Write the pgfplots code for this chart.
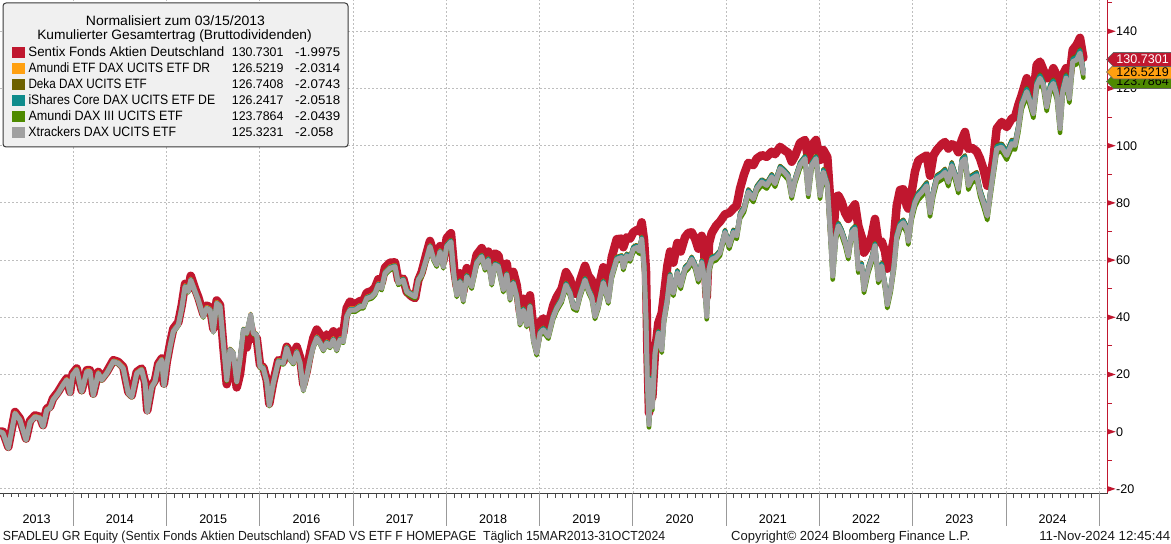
\documentclass[border=0pt]{standalone}
\usepackage{pgfplots}
\pgfplotsset{compat=1.18}
\usepackage{pgfplotstable}
\usepackage{fontspec}
\setmainfont{Liberation Sans}
\usetikzlibrary{shapes.symbols}

\definecolor{sentix}{HTML}{C0172F}
\definecolor{amundidr}{HTML}{FFA010}
\definecolor{deka}{HTML}{6D6100}
\definecolor{ishares}{HTML}{0F8C8C}
\definecolor{amundiiii}{HTML}{4E8A00}
\definecolor{xtrackers}{HTML}{A0A0A0}
\definecolor{gridgray}{HTML}{BEBEBE}
\definecolor{legbg}{HTML}{F0F0F0}
\definecolor{legborder}{HTML}{3A3A3A}

% t = decimal year, S = Sentix, DR = Amundi DR, DK = Deka, IS = iShares, A3 = Amundi III, X = Xtrackers
\pgfplotstableread{
t S DR DK IS A3 X
2013.214 0.0 0.0 0.0 0.0 0.0 0.0
2013.246 0.0 -0.2 -0.4 -0.5 -0.6 -0.5
2013.303 -5.3 -5.5 -5.7 -5.8 -5.9 -5.8
2013.375 6.9 6.7 6.5 6.4 6.3 6.4
2013.428 4.6 4.4 4.2 4.1 4.0 4.1
2013.493 -2.4 -2.6 -2.8 -2.9 -3.0 -2.9
2013.536 3.8 3.6 3.4 3.3 3.2 3.3
2013.589 5.7 5.5 5.3 5.2 5.1 5.2
2013.643 5.2 5.0 4.8 4.7 4.6 4.7
2013.675 2.3 2.1 1.9 1.8 1.7 1.8
2013.715 8.1 7.9 7.7 7.6 7.5 7.6
2013.750 8.7 8.5 8.3 8.2 8.1 8.2
2013.782 11.6 11.4 11.2 11.1 11.0 11.1
2013.836 13.9 13.7 13.5 13.4 13.3 13.4
2013.890 16.8 16.6 16.4 16.3 16.2 16.3
2013.929 18.6 18.4 18.2 18.1 18.0 18.1
2013.965 13.9 13.7 13.5 13.4 13.3 13.4
2013.993 20.3 20.1 19.9 19.8 19.7 19.8
2014.036 22.1 22.0 21.8 21.7 21.4 21.6
2014.090 14.5 14.4 14.2 14.1 13.8 14.0
2014.144 21.5 21.4 21.2 21.1 20.8 21.0
2014.179 21.5 21.4 21.2 21.1 20.8 21.0
2014.214 13.3 13.2 13.0 12.9 12.6 12.8
2014.268 20.9 20.8 20.6 20.5 20.2 20.4
2014.304 18.6 18.5 18.3 18.2 17.9 18.1
2014.358 20.9 20.8 20.6 20.5 20.2 20.4
2014.429 25.0 24.9 24.7 24.6 24.3 24.5
2014.482 24.4 24.3 24.1 24.0 23.7 23.9
2014.536 22.6 22.5 22.3 22.2 21.9 22.1
2014.590 13.9 13.8 13.6 13.5 13.2 13.4
2014.626 12.7 12.6 12.4 12.3 12.0 12.2
2014.680 20.9 20.8 20.6 20.5 20.2 20.4
2014.733 22.1 22.0 21.8 21.7 21.4 21.6
2014.769 17.4 17.3 17.1 17.0 16.7 16.9
2014.793 7.5 7.4 7.2 7.1 6.8 7.0
2014.841 16.2 16.1 15.9 15.8 15.5 15.7
2014.876 18.0 17.9 17.7 17.6 17.3 17.5
2014.911 23.8 23.7 23.5 23.4 23.1 23.3
2014.948 25.6 25.5 25.3 25.2 24.9 25.1
2014.972 16.8 16.7 16.5 16.4 16.1 16.3
2015.001 24.3 23.8 23.6 23.5 23.0 23.3
2015.037 30.7 30.2 30.0 29.9 29.4 29.7
2015.072 36.0 35.5 35.3 35.2 34.7 35.0
2015.126 38.3 37.8 37.6 37.5 37.0 37.3
2015.162 44.1 43.6 43.4 43.3 42.8 43.1
2015.198 51.7 51.2 51.0 50.9 50.4 50.7
2015.233 50.0 49.5 49.3 49.2 48.7 49.0
2015.259 54.5 53.5 53.3 53.2 52.7 53.0
2015.305 50.0 49.5 49.3 49.2 48.7 49.0
2015.340 47.0 46.5 46.3 46.2 45.7 46.0
2015.394 41.2 40.7 40.5 40.4 39.9 40.2
2015.430 44.1 43.6 43.4 43.3 42.8 43.1
2015.466 43.5 43.0 42.8 42.7 42.2 42.5
2015.501 36.0 35.5 35.3 35.2 34.7 35.0
2015.537 45.9 45.4 45.2 45.1 44.6 44.9
2015.573 44.3 44.3 44.1 44.0 43.5 43.8
2015.608 29.9 31.4 31.2 31.1 30.6 30.9
2015.645 16.6 18.6 18.4 18.3 17.8 18.1
2015.680 25.6 29.1 28.9 28.8 28.3 28.6
2015.715 24.4 27.9 27.7 27.6 27.1 27.4
2015.752 15.5 18.0 17.8 17.7 17.2 17.5
2015.787 20.1 25.6 25.4 25.3 24.8 25.1
2015.823 29.6 36.1 35.9 35.8 35.3 35.6
2015.859 29.4 34.9 34.7 34.6 34.1 34.4
2015.902 36.8 41.3 41.1 41.0 40.5 40.8
2015.930 32.4 34.9 34.7 34.6 34.1 34.4
2015.966 32.8 34.3 34.1 34.0 33.5 33.8
2016.002 23.2 23.3 23.1 23.0 22.3 22.7
2016.037 22.6 22.7 22.5 22.4 21.7 22.1
2016.074 18.0 18.1 17.9 17.8 17.1 17.5
2016.101 9.8 9.9 9.7 9.6 8.9 9.3
2016.144 17.4 17.5 17.3 17.2 16.5 16.9
2016.198 25.0 25.1 24.9 24.8 24.1 24.5
2016.251 24.4 24.5 24.3 24.2 23.5 23.9
2016.288 29.7 29.8 29.6 29.5 28.8 29.2
2016.323 27.5 26.1 25.9 25.8 25.1 25.5
2016.359 26.0 24.6 24.4 24.3 23.6 24.0
2016.395 29.7 28.3 28.1 28.0 27.3 27.7
2016.431 26.0 24.6 24.4 24.3 23.6 24.0
2016.466 16.6 15.2 15.0 14.9 14.2 14.6
2016.502 21.2 19.8 19.6 19.5 18.8 19.2
2016.538 27.6 25.7 25.5 25.4 24.7 25.1
2016.573 32.7 30.3 30.1 30.0 29.3 29.7
2016.610 35.7 33.3 33.1 33.0 32.3 32.7
2016.645 34.0 31.6 31.4 31.3 30.6 31.0
2016.680 31.6 29.2 29.0 28.9 28.2 28.6
2016.717 34.0 31.6 31.4 31.3 30.6 31.0
2016.752 32.7 30.3 30.1 30.0 29.3 29.7
2016.788 35.1 32.7 32.5 32.4 31.7 32.1
2016.824 31.6 29.2 29.0 28.9 28.2 28.6
2016.859 35.1 32.7 32.5 32.4 31.7 32.1
2016.895 34.5 32.1 31.9 31.8 31.1 31.5
2016.931 43.2 40.8 40.6 40.5 39.8 40.2
2016.967 45.5 43.1 42.9 42.8 42.1 42.5
2017.020 44.5 43.1 43.0 42.8 41.9 42.5
2017.074 45.7 44.3 44.2 44.0 43.1 43.7
2017.109 45.7 44.3 44.2 44.0 43.1 43.7
2017.146 48.6 47.2 47.1 46.9 46.0 46.6
2017.199 49.2 47.8 47.7 47.5 46.6 47.2
2017.235 50.4 49.0 48.9 48.7 47.8 48.4
2017.270 53.3 51.9 51.8 51.6 50.7 51.3
2017.306 52.1 50.7 50.6 50.4 49.5 50.1
2017.342 57.4 56.0 55.9 55.7 54.8 55.4
2017.395 59.1 57.7 57.6 57.4 56.5 57.1
2017.449 59.2 58.3 58.2 58.0 57.1 57.7
2017.484 52.9 52.5 52.4 52.2 51.3 51.9
2017.538 53.5 53.6 53.5 53.3 52.4 53.0
2017.575 48.9 49.5 49.4 49.2 48.3 48.9
2017.628 47.3 48.4 48.3 48.1 47.2 47.8
2017.664 46.7 47.8 47.7 47.5 46.6 47.2
2017.699 53.0 53.6 53.5 53.3 52.4 53.0
2017.735 55.8 55.4 55.3 55.1 54.2 54.8
2017.789 62.6 61.2 61.1 60.9 60.0 60.6
2017.824 66.7 65.3 65.2 65.0 64.1 64.7
2017.860 62.6 61.2 61.1 60.9 60.0 60.6
2017.896 60.3 58.9 58.8 58.6 57.7 58.3
2017.932 64.9 63.5 63.4 63.2 62.3 62.9
2017.967 59.7 58.3 58.2 58.0 57.1 57.7
2018.003 67.7 65.4 65.4 65.1 64.0 64.7
2018.049 69.4 67.1 67.1 66.8 65.7 66.4
2018.082 57.2 54.9 54.9 54.6 53.5 54.2
2018.111 50.8 48.5 48.5 48.2 47.1 47.8
2018.146 55.4 53.1 53.1 52.8 51.7 52.4
2018.181 49.0 46.7 46.7 46.4 45.3 46.0
2018.218 57.2 54.9 54.9 54.6 53.5 54.2
2018.271 53.7 51.4 51.4 51.1 50.0 50.7
2018.325 61.9 59.6 59.6 59.3 58.2 58.9
2018.379 64.2 61.9 61.9 61.6 60.5 61.2
2018.414 60.1 57.8 57.8 57.5 56.4 57.1
2018.449 63.0 60.7 60.7 60.4 59.3 60.0
2018.486 55.9 52.6 52.6 52.3 51.2 51.9
2018.521 62.3 59.0 59.0 58.7 57.6 58.3
2018.557 61.7 58.4 58.4 58.1 57.0 57.7
2018.610 53.5 50.2 50.2 49.9 48.8 49.5
2018.647 58.8 55.5 55.5 55.2 54.1 54.8
2018.682 50.6 47.3 47.3 47.0 45.9 46.6
2018.717 55.9 52.6 52.6 52.3 51.2 51.9
2018.754 51.2 47.9 47.9 47.6 46.5 47.2
2018.789 41.9 38.6 38.6 38.3 37.2 37.9
2018.825 46.5 43.2 43.2 42.9 41.8 42.5
2018.861 41.3 38.0 38.0 37.7 36.6 37.3
2018.896 47.7 44.4 44.4 44.1 43.0 43.7
2018.932 36.1 32.8 32.8 32.5 31.4 32.1
2018.968 31.4 28.1 28.1 27.8 26.7 27.4
2019.004 38.4 35.2 35.2 34.9 33.6 34.4
2019.039 39.6 36.4 36.4 36.1 34.8 35.6
2019.093 37.3 34.1 34.1 33.8 32.5 33.3
2019.146 44.2 41.0 41.0 40.7 39.4 40.2
2019.183 47.1 43.9 43.9 43.6 42.3 43.1
2019.236 50.0 46.8 46.8 46.5 45.2 46.0
2019.282 55.8 52.1 52.1 51.8 50.5 51.3
2019.325 53.4 49.2 49.2 48.9 47.6 48.4
2019.361 48.7 44.5 44.5 44.2 42.9 43.7
2019.397 48.1 43.9 43.9 43.6 42.3 43.1
2019.433 52.8 48.6 48.6 48.3 47.0 47.8
2019.486 58.0 53.8 53.8 53.5 52.2 53.0
2019.522 54.5 50.3 50.3 50.0 48.7 49.5
2019.558 53.0 47.8 47.8 47.5 46.2 47.0
2019.593 46.5 41.0 41.0 40.7 39.4 40.2
2019.629 50.0 44.6 44.6 44.3 43.0 43.8
2019.682 57.5 52.9 52.9 52.6 51.3 52.1
2019.736 52.0 46.4 46.4 46.1 44.8 45.6
2019.773 61.0 55.2 55.2 54.9 53.6 54.4
2019.826 67.3 61.1 61.1 60.8 59.5 60.3
2019.880 67.5 61.7 61.7 61.4 60.1 60.9
2019.897 64.5 58.1 58.1 57.8 56.5 57.3
2019.933 68.0 62.3 62.3 62.0 60.7 61.5
2019.969 67.5 61.1 61.1 60.8 59.5 60.3
2020.004 69.7 64.7 64.7 64.4 62.8 63.8
2020.041 70.5 65.3 65.3 65.0 63.4 64.4
2020.068 70.0 64.1 64.1 63.8 62.2 63.2
2020.094 73.2 68.2 68.2 67.9 66.3 67.3
2020.119 67.0 58.8 58.8 58.5 56.9 57.9
2020.140 56.0 40.0 40.0 39.7 38.1 39.1
2020.154 30.0 18.9 18.9 18.6 17.0 18.0
2020.172 6.5 3.4 3.4 3.1 1.5 2.5
2020.191 14.0 18.9 18.9 18.6 17.0 18.0
2020.208 12.0 9.5 9.5 9.2 7.6 8.6
2020.237 28.0 28.3 28.3 28.0 26.4 27.4
2020.272 38.0 35.3 35.3 35.0 33.4 34.4
2020.309 41.5 29.5 29.5 29.2 27.6 28.6
2020.333 48.0 40.0 40.0 39.7 38.1 39.1
2020.369 58.0 47.1 47.1 46.8 45.2 46.2
2020.398 63.0 55.3 55.3 55.0 53.4 54.4
2020.433 59.1 49.4 49.4 49.1 47.5 48.5
2020.476 66.0 56.5 56.5 56.2 54.6 55.6
2020.512 63.0 51.8 51.8 51.5 49.9 50.9
2020.558 68.0 57.7 57.7 57.4 55.8 56.8
2020.594 69.5 58.8 58.8 58.5 56.9 57.9
2020.630 69.7 61.2 61.2 60.9 59.3 60.3
2020.666 67.5 58.8 58.8 58.5 56.9 57.9
2020.701 64.0 54.1 54.1 53.8 52.2 53.2
2020.737 68.5 60.0 60.0 59.7 58.1 59.1
2020.762 63.5 55.3 55.3 55.0 53.4 54.4
2020.791 47.0 41.2 41.2 40.9 39.3 40.3
2020.816 66.0 57.7 57.7 57.4 55.8 56.8
2020.845 69.5 61.2 61.2 60.9 59.3 60.3
2020.891 72.0 61.8 61.8 61.5 59.9 60.9
2020.934 73.5 63.5 63.5 63.2 61.6 62.6
2020.987 76.0 70.6 70.6 70.3 68.7 69.7
2021.033 76.5 65.9 66.0 65.6 63.9 65.0
2021.076 78.0 70.6 70.7 70.3 68.6 69.7
2021.113 79.1 69.4 69.5 69.1 67.4 68.5
2021.148 85.0 76.5 76.6 76.2 74.5 75.6
2021.191 90.0 78.8 78.9 78.5 76.8 77.9
2021.237 94.0 84.7 84.8 84.4 82.7 83.8
2021.291 93.2 82.3 82.4 82.0 80.3 81.4
2021.327 95.5 85.9 86.0 85.6 83.9 85.0
2021.381 96.7 88.2 88.3 87.9 86.2 87.3
2021.434 96.1 87.0 87.1 86.7 85.0 86.1
2021.488 97.9 90.0 90.1 89.7 88.0 89.1
2021.523 97.0 87.6 87.7 87.3 85.6 86.7
2021.577 99.6 92.9 93.0 92.6 90.9 92.0
2021.620 98.5 91.7 91.8 91.4 89.7 90.8
2021.666 97.5 90.0 90.1 89.7 88.0 89.1
2021.702 94.4 83.5 83.6 83.2 81.5 82.6
2021.738 96.5 88.8 88.9 88.5 86.8 87.9
2021.791 101.0 94.1 94.2 93.8 92.1 93.2
2021.845 102.0 96.4 96.5 96.1 94.4 95.5
2021.880 95.0 84.1 84.2 83.8 82.1 83.2
2021.917 100.2 94.1 94.2 93.8 92.1 93.2
2021.963 102.0 96.4 96.5 96.1 94.4 95.5
2022.006 95.0 83.6 83.7 83.3 81.4 82.6
2022.041 98.5 91.8 91.9 91.5 89.6 90.8
2022.084 96.0 87.1 87.2 86.8 84.9 86.1
2022.113 82.0 71.9 72.0 71.6 69.7 70.9
2022.142 66.0 55.4 55.5 55.1 53.2 54.4
2022.177 82.0 69.5 69.6 69.2 67.3 68.5
2022.202 82.6 73.0 73.1 72.7 70.8 72.0
2022.238 80.3 70.7 70.8 70.4 68.5 69.7
2022.274 76.5 67.2 67.3 66.9 65.0 66.2
2022.309 74.4 62.5 62.6 62.2 60.3 61.5
2022.346 77.9 70.7 70.8 70.4 68.5 69.7
2022.381 79.5 71.9 72.0 71.6 69.7 70.9
2022.416 72.0 57.8 57.9 57.5 55.6 56.8
2022.453 68.0 58.9 59.0 58.6 56.7 57.9
2022.477 62.6 50.7 50.8 50.4 48.5 49.7
2022.524 65.0 57.8 57.9 57.5 55.6 56.8
2022.560 68.5 61.3 61.4 61.0 59.1 60.3
2022.595 74.4 66.0 66.1 65.7 63.8 65.0
2022.631 66.2 54.2 54.3 53.9 52.0 53.2
2022.667 66.5 59.0 59.1 58.7 56.8 58.0
2022.703 63.0 51.9 52.0 51.6 49.7 50.9
2022.727 57.0 45.4 45.5 45.1 43.2 44.4
2022.764 61.4 51.0 51.1 50.7 48.8 50.0
2022.799 68.0 59.0 59.1 58.7 56.8 58.0
2022.828 79.0 69.0 69.1 68.7 66.8 68.0
2022.863 84.5 73.0 73.1 72.7 70.8 72.0
2022.899 84.8 74.1 74.2 73.8 71.9 73.1
2022.935 79.0 71.8 71.9 71.5 69.6 70.8
2022.952 78.0 67.6 67.7 67.3 65.4 66.6
2022.989 84.0 76.4 76.5 76.1 74.2 75.4
2023.024 91.0 81.2 81.4 80.9 78.7 80.1
2023.060 94.8 83.6 83.8 83.3 81.1 82.5
2023.096 95.6 84.8 85.0 84.5 82.3 83.7
2023.150 96.6 87.1 87.3 86.8 84.6 86.0
2023.185 89.5 77.7 77.9 77.4 75.2 76.6
2023.221 96.6 84.8 85.0 84.5 82.3 83.7
2023.257 98.5 89.5 89.7 89.2 87.0 88.4
2023.311 100.5 90.6 90.8 90.3 88.1 89.5
2023.346 101.3 91.8 92.0 91.5 89.3 90.7
2023.381 99.0 88.3 88.5 88.0 85.8 87.2
2023.418 100.5 94.1 94.3 93.8 91.6 93.0
2023.453 100.0 90.6 90.8 90.3 88.1 89.5
2023.489 97.7 85.9 86.1 85.6 83.4 84.8
2023.525 102.0 95.3 95.5 95.0 92.8 94.2
2023.560 104.8 96.5 96.7 96.2 94.0 95.4
2023.596 98.9 87.1 87.3 86.8 84.6 86.0
2023.632 99.3 89.5 89.7 89.2 87.0 88.4
2023.686 98.0 90.6 90.8 90.3 88.1 89.5
2023.721 95.5 84.8 85.0 84.5 82.3 83.7
2023.757 91.9 81.2 81.4 80.9 78.7 80.1
2023.799 86.0 76.5 76.7 76.2 74.0 75.4
2023.828 88.0 83.6 83.8 83.3 81.1 82.5
2023.864 95.4 91.8 92.0 91.5 89.3 90.7
2023.900 106.0 100.0 100.2 99.7 97.5 98.9
2023.954 108.3 100.6 100.8 100.3 98.1 99.5
2024.007 106.5 97.8 98.0 97.5 95.1 96.6
2024.061 109.5 101.9 102.1 101.6 99.2 100.7
2024.096 110.0 101.3 101.5 101.0 98.6 100.1
2024.132 114.2 107.2 107.4 106.9 104.5 106.0
2024.168 117.7 115.4 115.6 115.1 112.7 114.2
2024.222 123.6 120.1 120.3 119.8 117.4 118.9
2024.257 119.0 116.6 116.8 116.3 113.9 115.4
2024.293 118.0 112.4 112.6 112.1 109.7 111.2
2024.329 128.3 122.4 122.6 122.1 119.7 121.2
2024.364 129.4 124.8 125.0 124.5 122.1 123.6
2024.400 126.5 122.4 122.6 122.1 119.7 121.2
2024.436 123.5 114.8 115.0 114.5 112.1 113.6
2024.472 124.0 121.2 121.4 120.9 118.5 120.0
2024.507 127.1 123.0 123.2 122.7 120.3 121.8
2024.544 124.5 118.9 119.1 118.6 116.2 117.7
2024.579 117.0 107.2 107.4 106.9 104.5 106.0
2024.608 124.7 120.1 120.3 119.8 117.4 118.9
2024.643 127.1 124.8 125.0 124.5 122.1 123.6
2024.679 123.6 117.7 117.9 117.4 115.0 116.5
2024.715 133.5 130.6 130.8 130.3 127.9 129.4
2024.758 135.3 131.2 131.4 130.9 128.5 130.0
2024.793 137.7 133.6 133.8 133.3 130.9 132.4
2024.829 130.7301 126.5219 126.7408 126.2417 123.7864 125.3231
}\perf

\newcommand\legfont{\fontsize{13.6}{15}\selectfont}
\newcommand\numfont{\fontsize{12.6}{15}\selectfont}
\newcommand\tickfont{\fontsize{12.6}{14}\selectfont}
% set a text to a given width, keeping its height
\newcommand\fitw[2]{\resizebox{#1}{\height}{#2}}

\begin{document}
\begin{tikzpicture}
\useasboundingbox (0bp,0bp) rectangle (1171bp,544bp);
\begin{axis}[
  at={(0bp,51bp)}, anchor=south west,
  width=1107.7bp, height=493bp, scale only axis,
  xmin=2013.214, xmax=2025.09, ymin=-21.43, ymax=150.94,
  axis x line*=bottom, axis y line*=right,
  x axis line style={black!75, line width=1bp},
  y axis line style={sentix, line width=1bp},
  xtick={2014,2015,2016,2017,2018,2019,2020,2021,2022,2023,2024,2025},
  xticklabels={},
  minor x tick num=11,
  extra x ticks={2013.607,2014.5,2015.5,2016.5,2017.5,2018.5,2019.5,2020.5,2021.5,2022.5,2023.5,2024.5},
  extra x tick labels={2013,2014,2015,2016,2017,2018,2019,2020,2021,2022,2023,2024},
  extra x tick style={grid=none},
  x tick label style={font=\tickfont, anchor=base, yshift=-30.3bp},
  ytick={-20,0,20,40,60,80,100,120,140},
  yticklabels={-20,0,20,40,60,80,100,120,140},
  minor ytick={-10,10,30,50,70,90,110,130,150},
  y tick label style={font=\tickfont, anchor=west, xshift=5bp},
  tick align=outside,
  major tick length=0.01bp, minor tick length=4.5bp,
  minor x tick style={black!70, line width=1bp},
  minor y tick style={sentix, line width=1bp},
  grid=major,
  major grid style={gridgray, line width=0.9bp, dash pattern=on 2bp off 2bp},
  every axis plot/.append style={line join=round, line cap=round, mark=none},
]
\addplot[sentix, line width=8.5bp] table[x=t, y=S] {\perf};
\addplot[amundidr, line width=4bp] table[x=t, y=DR] {\perf};
\addplot[deka, line width=4bp] table[x=t, y=DK] {\perf};
\addplot[ishares, line width=4.5bp] table[x=t, y=IS] {\perf};
\addplot[amundiiii, line width=4.5bp] table[x=t, y=A3] {\perf};
\addplot[xtrackers, line width=5bp] table[x=t, y=X] {\perf};
\end{axis}

% monthly ticks of 2013 (before the first year boundary)
\foreach \mx in {3.36,11.1,18.9,26.7,34.4,42.2,50.0,57.7,65.5}{
  \draw[black!70, line width=1bp] (\mx bp,51bp) -- (\mx bp,46.5bp);
}
% year separators below the time axis (x = (year-2013.214)*93.27bp)
\foreach \sx in {73.31,166.58,259.85,353.12,446.39,539.66,632.93,726.20,819.47,912.74,1006.01,1099.28}{
  \draw[black!40, line width=1bp] (\sx bp,51bp) -- (\sx bp,18bp);
}
% flag-shaped major ticks on the right axis (y = 51bp + (v+21.43)*2.8601bp)
\foreach \fy in {55.09,112.29,169.50,226.70,283.90,341.10,398.31,455.51,512.71}{
  \fill[sentix] (1107.7bp,\fy bp+2.7bp) -- (1115.7bp,\fy bp) -- (1107.7bp,\fy bp-2.7bp) -- cycle;
}

% last-value tags
\node[signal, signal to=west, fill=amundiiii, draw=black!60, line width=0.6bp,
  minimum height=14bp, inner xsep=3bp, inner ysep=0bp, anchor=west,
  font=\numfont, text=black] at (1106bp,462.5bp) {123.7864};
\node[signal, signal to=west, fill=amundidr, draw=black!60, line width=0.6bp,
  minimum height=14bp, inner xsep=3bp, inner ysep=0bp, anchor=west,
  font=\numfont, text=black] at (1106bp,472bp) {126.5219};
\node[signal, signal to=west, fill=sentix, draw=black!60, line width=0.6bp,
  minimum height=14bp, inner xsep=3bp, inner ysep=0bp, anchor=west,
  font=\numfont, text=white] at (1106bp,484.5bp) {130.7301};

% legend box
\draw[fill=legbg, draw=legborder, line width=1bp, rounded corners=3bp]
  (3bp,541bp) rectangle (348bp,397bp);
\begin{scope}[every node/.style={inner sep=0pt, text=black}]
\node[anchor=base, font=\legfont] at (175.5bp,518.7bp) {\fitw{179bp}{Normalisiert zum 03/15/2013}};
\node[anchor=base, font=\legfont] at (174.5bp,504.5bp) {\fitw{274.4bp}{Kumulierter Gesamtertrag (Bruttodividenden)}};
\fill[sentix]    (11.7bp,486.3bp) rectangle (25bp,497.3bp);
\fill[amundidr]  (11.7bp,470.3bp) rectangle (25bp,481.3bp);
\fill[deka]      (11.7bp,454.3bp) rectangle (25bp,465.3bp);
\fill[ishares]   (11.7bp,438.3bp) rectangle (25bp,449.3bp);
\fill[amundiiii] (11.7bp,422.3bp) rectangle (25bp,433.3bp);
\fill[xtrackers] (11.7bp,406.3bp) rectangle (25bp,417.3bp);
\node[anchor=base west, font=\legfont] at (28.3bp,487bp) {\fitw{195.7bp}{Sentix Fonds Aktien Deutschland}};
\node[anchor=base west, font=\legfont] at (28.3bp,471bp) {\fitw{181.7bp}{Amundi ETF DAX UCITS ETF DR}};
\node[anchor=base west, font=\legfont] at (28.3bp,455bp) {\fitw{118.4bp}{Deka DAX UCITS ETF}};
\node[anchor=base west, font=\legfont] at (28.3bp,439bp) {\fitw{186.7bp}{iShares Core DAX UCITS ETF DE}};
\node[anchor=base west, font=\legfont] at (28.3bp,423bp) {\fitw{154.4bp}{Amundi DAX III UCITS ETF}};
\node[anchor=base west, font=\legfont] at (28.3bp,407bp) {\fitw{147.7bp}{Xtrackers DAX UCITS ETF}};
\node[anchor=base west, font=\numfont] at (231.7bp,487bp) {\fitw{51.6bp}{130.7301}};
\node[anchor=base west, font=\numfont] at (231.7bp,471bp) {\fitw{51.6bp}{126.5219}};
\node[anchor=base west, font=\numfont] at (231.7bp,455bp) {\fitw{51.6bp}{126.7408}};
\node[anchor=base west, font=\numfont] at (231.7bp,439bp) {\fitw{51.6bp}{126.2417}};
\node[anchor=base west, font=\numfont] at (231.7bp,423bp) {\fitw{51.6bp}{123.7864}};
\node[anchor=base west, font=\numfont] at (231.7bp,407bp) {\fitw{51.6bp}{125.3231}};
\node[anchor=base west, font=\numfont] at (295bp,487bp) {\fitw{45bp}{-1.9975}};
\node[anchor=base west, font=\numfont] at (295bp,471bp) {\fitw{45bp}{-2.0314}};
\node[anchor=base west, font=\numfont] at (295bp,455bp) {\fitw{45bp}{-2.0743}};
\node[anchor=base west, font=\numfont] at (295bp,439bp) {\fitw{45bp}{-2.0518}};
\node[anchor=base west, font=\numfont] at (295bp,423bp) {\fitw{45bp}{-2.0439}};
\node[anchor=base west, font=\numfont] at (295bp,407bp) {\fitw{38.3bp}{-2.058}};
\end{scope}

% footer
\begin{scope}[every node/.style={inner sep=0pt, text=black!90, font=\fontsize{13.2}{14}\selectfont}]
\node[anchor=base west] at (2.7bp,3.3bp) {\fitw{662.3bp}{SFADLEU GR Equity (Sentix Fonds Aktien Deutschland) SFAD VS ETF F HOMEPAGE\ \ Täglich 15MAR2013-31OCT2024}};
\node[anchor=base west] at (731bp,3.3bp) {\fitw{239bp}{Copyright© 2024 Bloomberg Finance L.P.}};
\node[anchor=base east] at (1170.5bp,3.3bp) {\fitw{131bp}{11-Nov-2024 12:45:44}};
\end{scope}
\end{tikzpicture}
\end{document}
